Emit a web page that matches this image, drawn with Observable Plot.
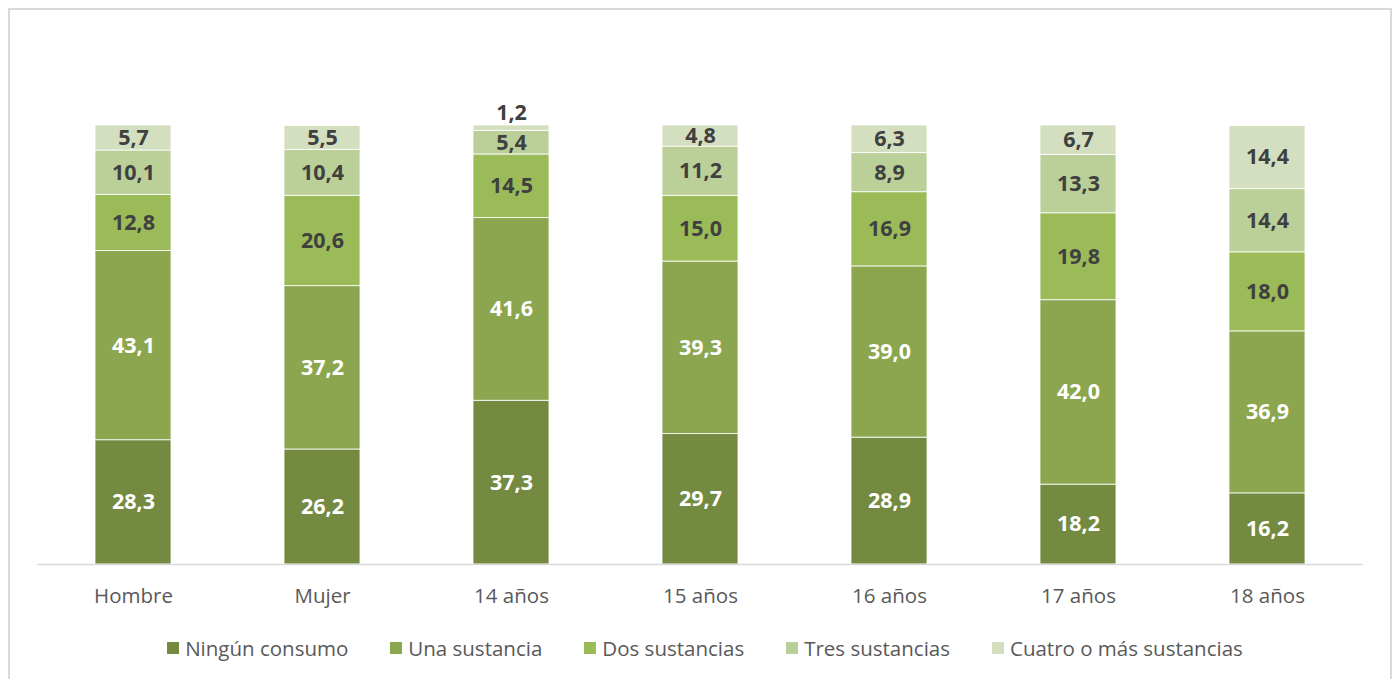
<!DOCTYPE html>
<html><head><meta charset="utf-8">
<script src="https://cdn.jsdelivr.net/npm/d3@7"></script>
<script src="https://cdn.jsdelivr.net/npm/@observablehq/plot@0.6"></script>
<style>
html,body{margin:0;padding:0;background:#fff;overflow:hidden;}
#frame{position:absolute;left:8px;top:8px;width:1380px;height:700px;border:2px solid #d9d9d9;background:#fff;}
#chart{position:absolute;left:0;top:0;}
#legend{position:absolute;left:5px;top:624px;width:1380px;display:flex;justify-content:center;gap:42px;font-family:"Open Sans",sans-serif;font-size:20.5px;color:#595959;}
#legend .it{display:flex;align-items:center;gap:6px;}
#legend .sw{width:12px;height:12px;display:inline-block;}
</style></head>
<body>
<div id="frame"><div id="chart"></div><div id="legend"></div></div>
<script>
const categories = ["Hombre","Mujer","14 años","15 años","16 años","17 años","18 años"];
const series = ["Ningún consumo","Una sustancia","Dos sustancias","Tres sustancias","Cuatro o más sustancias"];
const ningunConsumo = [28.3,26.2,37.3,29.7,28.9,18.2,16.2];
const unaSustancia = [43.1,37.2,41.6,39.3,39.0,42.0,36.9];
const dosSustancias = [12.8,20.6,14.5,15.0,16.9,19.8,18.0];
const tresSustancias = [10.1,10.4,5.4,11.2,8.9,13.3,14.4];
const cuatroOMas = [5.7,5.5,1.2,4.8,6.3,6.7,14.4];
const colors = ["#748a40","#8ba64f","#9bbb59","#bbd098","#d3dfbf"];
const labelColors = ["#ffffff","#ffffff","#404040","#404040","#404040"];

const valuesBySeries = [ningunConsumo,unaSustancia,dosSustancias,tresSustancias,cuatroOMas];
const data = [];
series.forEach((s,si)=>categories.forEach((c,ci)=>data.push({cat:c,serie:s,value:valuesBySeries[si][ci],si})));

const fmt = v => v.toFixed(1).replace(".",",");
const font = "'Open Sans', sans-serif";
const stackOpts = {x:"cat", y:"value", z:"serie", order: series};

const chart = Plot.plot({
  width:1380, height:610,
  marginLeft:27.5, marginRight:27.5, marginTop:115, marginBottom:56,
  style:{fontFamily:font, background:"transparent"},
  x:{domain:categories, paddingInner:0.6, paddingOuter:0.3, label:null},
  y:{domain:[0,100], axis:null},
  color:{domain:series, range:colors},
  marks:[
    Plot.barY(data, Plot.stackY({...stackOpts, fill:"serie", stroke:"#fff", strokeWidth:0.8})),
    Plot.ruleY([0],{stroke:"#d9d9d9", strokeWidth:1.5}),
    Plot.text(data, Plot.stackY({...stackOpts, text:d=>d.value>=3?fmt(d.value):null, fill:d=>labelColors[d.si], fontSize:21.5, fontWeight:"bold"})),
    Plot.text(data, Plot.stackY2({...stackOpts, text:d=>d.value<3?fmt(d.value):null, fill:"#404040", fontSize:21.5, fontWeight:"bold", dy:-12})),
    Plot.axisX({tickSize:0, tickPadding:24, fontSize:20.5, fill:"#595959", label:null})
  ]
});
document.getElementById("chart").appendChild(chart);

const leg = document.getElementById("legend");
series.forEach((s,i)=>{
  const it=document.createElement("div");it.className="it";
  const sw=document.createElement("span");sw.className="sw";sw.style.background=colors[i];
  const t=document.createElement("span");t.textContent=s;
  it.appendChild(sw);it.appendChild(t);leg.appendChild(it);
});
</script>
</body></html>
